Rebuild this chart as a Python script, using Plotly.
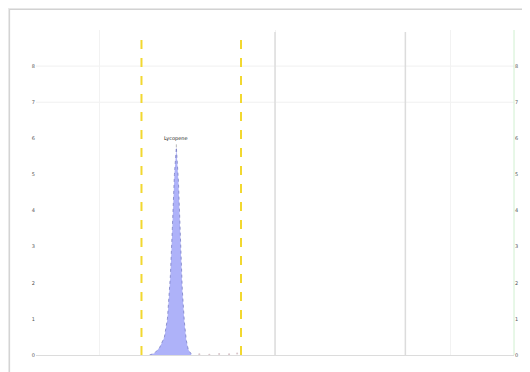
import plotly.graph_objects as go

# ---- data ----
peak_x = [12.84, 13.12, 13.41, 13.69, 13.86, 14.03, 14.14, 14.26, 14.37,
          14.49, 14.60, 14.71, 14.83, 14.94, 15.05, 15.22]
peak_y = [0.0, 0.05, 0.2, 0.5, 1.0, 2.2, 3.5, 5.0, 5.75,
          4.8, 3.3, 1.8, 0.9, 0.4, 0.15, 0.03]
tail_x = [15.68, 16.25, 16.81, 17.38, 17.84]
tail_y = [0.02, 0.01, 0.03, 0.02, 0.04]
peak_label = "Lycopene"
peak_label_x = 14.37
peak_label_y = 5.75
window_lines = [12.38, 18.06]
marker_lines = [20.0, 27.44]
y_ticks = [0, 1, 2, 3, 4, 5, 6, 7, 8]
y_ticktext = ["0", "1", "2", "3", "4", "5", "6", "7", "8"]
x_range = [6.36, 33.64]
y_range = [0, 9.0]

fig = go.Figure()

fig.add_trace(go.Scatter(
    x=peak_x, y=peak_y, mode="lines", fill="tozeroy",
    fillcolor="rgba(165,170,248,0.9)",
    line=dict(color="rgba(110,115,190,0.7)", width=1, dash="dot"),
    showlegend=False, hoverinfo="skip"))
fig.add_trace(go.Scatter(
    x=tail_x, y=tail_y, mode="markers",
    marker=dict(color="rgba(180,140,150,0.5)", size=2),
    showlegend=False, hoverinfo="skip"))
fig.add_trace(go.Scatter(x=[x_range[0]], y=[0], yaxis="y2", mode="markers",
                         marker=dict(opacity=0), showlegend=False, hoverinfo="skip"))

# pixel helpers (absolute page pixels -> paper coords of the plot area)
PL, PR, PT, PB = 36, 516, 30, 355
def px(p):
    return (p - PL) / (PR - PL)
def py(p):
    return (PB - p) / (PB - PT)

shapes = []
for i, op in enumerate([0.035, 0.06, 0.09]):
    d = (3 - i)
    shapes.append(dict(type="rect", xref="paper", yref="paper",
                       x0=px(10 - d), x1=px(545), y0=py(385), y1=py(10 - d),
                       fillcolor=f"rgba(0,0,0,{op})", line=dict(width=0), layer="below"))
shapes.append(dict(type="rect", xref="paper", yref="paper",
                   x0=px(10), x1=px(545), y0=py(385), y1=py(10),
                   fillcolor="white", line=dict(width=0), layer="below"))
for yv in [7, 8]:
    shapes.append(dict(type="line", xref="paper", yref="y", x0=0, x1=1, y0=yv, y1=yv,
                       line=dict(color="#f0f0f0", width=1), layer="below"))
for xv in window_lines:
    shapes.append(dict(type="line", xref="x", yref="paper", x0=xv, x1=xv, y0=0, y1=py(33),
                       line=dict(color="#f2d830", width=2, dash="dash")))
for xv in marker_lines:
    shapes.append(dict(type="line", xref="x", yref="paper", x0=xv, x1=xv, y0=0, y1=py(32),
                       line=dict(color="#dcdcdc", width=1.5)))
shapes.append(dict(type="line", xref="paper", yref="paper", x0=1, x1=1, y0=0, y1=1,
                   line=dict(color="#d0f0d0", width=1)))

OFF = 8  # default body margin of the page
fig.update_layout(
    width=530 - OFF, height=372 - OFF,
    margin=dict(l=PL - OFF, r=(530 - OFF) - (PR - OFF), t=PT - OFF,
                b=(372 - OFF) - (PB - OFF)),
    paper_bgcolor="white", plot_bgcolor="rgba(0,0,0,0)",
    font=dict(family="DejaVu Sans", size=6, color="#555"),
    shapes=shapes,
    xaxis=dict(range=x_range, dtick=10, tick0=0, showgrid=True, gridcolor="#f2f2f2",
               showticklabels=False, zeroline=False, showline=True, linecolor="#dcdcdc",
               ticks=""),
    yaxis=dict(range=y_range, tickvals=y_ticks, ticktext=y_ticktext, showgrid=False,
               zeroline=False, showline=False, ticks="", tickfont=dict(size=5, color="#555")),
    yaxis2=dict(range=y_range, overlaying="y", side="right", tickvals=y_ticks,
                ticktext=y_ticktext, showgrid=False, zeroline=False, showline=False,
                ticks="", tickfont=dict(size=5, color="#555")),
    annotations=[dict(x=peak_label_x, y=peak_label_y, text=peak_label, showarrow=True,
                      arrowhead=0, arrowwidth=0.6, arrowcolor="#888", ax=0, ay=-3,
                      font=dict(size=5, color="#222"), yanchor="bottom")],
)

fig.write_html("out.html")
